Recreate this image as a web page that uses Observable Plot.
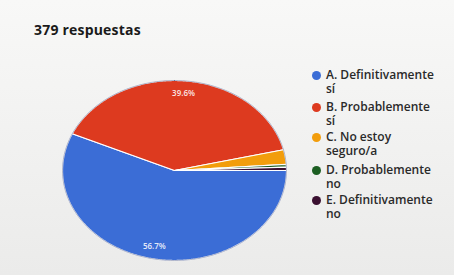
<!DOCTYPE html>
<html><head><meta charset="utf-8">
<script src="https://cdn.jsdelivr.net/npm/d3@7"></script>
<script src="https://cdn.jsdelivr.net/npm/@observablehq/plot@0.6"></script>
<style>
body{margin:0;background:#f1f1f0;font-family:"Open Sans",Roboto,sans-serif;}
#wrap{position:relative;width:454px;height:275px;overflow:hidden;background:linear-gradient(#f8f8f7,#ebebea);}
#title{position:absolute;left:34px;top:20px;font-size:14px;font-weight:700;color:#1a1a1a;letter-spacing:0.2px;}
#plot{position:absolute;left:0;top:0;}
.leg{position:absolute;left:312px;width:140px;display:flex;align-items:flex-start;font-size:12px;font-weight:600;color:#2a2a2a;line-height:14px;}
.leg .sw{width:9px;height:9px;border-radius:50%;flex:none;margin-top:3px;margin-right:5px;}
.leg .tx{width:108px;}
</style></head>
<body><div id="wrap"><div id="title"></div><div id="plot"></div></div>
<script>
const title = "379 respuestas";
const categories = ["A. Definitivamente sí","B. Probablemente sí","C. No estoy seguro/a","D. Probablemente no","E. Definitivamente no"];
const values = [56.7, 39.6, 2.6, 0.5, 0.6];
const colors = ["#3b6dd6","#dd3a1f","#f29d0c","#1c5e22","#3a1030"];
const shownLabels = ["56.7%","39.6%","","",""];

document.getElementById("title").textContent = title;

const arcs = d3.pie().sort(null).value(d => d).startAngle(Math.PI/2).endAngle(Math.PI/2 + 2*Math.PI)(values);
const marks = [];
arcs.forEach((a, i) => {
  const pts = [{x:0,y:0}];
  const n = Math.max(2, Math.ceil((a.endAngle - a.startAngle) / 0.01));
  for (let k = 0; k <= n; k++) {
    const t = a.startAngle + (a.endAngle - a.startAngle) * k / n;
    pts.push({x: Math.sin(t), y: -Math.cos(t)});
  }
  marks.push(Plot.line(pts, {x:"x", y:"y", fill: colors[i], stroke: "#ffffff", strokeWidth: 1.2, curve: "linear-closed"}));
});
const rim = d3.range(0, 361, 2).map(d => ({x: Math.sin(d*Math.PI/180), y: -Math.cos(d*Math.PI/180)}));
marks.push(Plot.line(rim, {x:"x", y:"y", stroke:"#1b2a6a", strokeOpacity:0.35, strokeWidth:1, curve:"linear-closed"}));
const labels = arcs.map((a, i) => {
  const m = (a.startAngle + a.endAngle) / 2;
  return {x: 0.86*Math.sin(m), y: -0.86*Math.cos(m), t: shownLabels[i]};
}).filter(d => d.t);
marks.push(Plot.text(labels, {x:"x", y:"y", text:"t", fill:"#ffffff", fillOpacity:0.85, fontSize: 8, fontWeight: 600}));

const chart = Plot.plot({
  width: 454, height: 275,
  x: {domain: [-1, 1], range: [62, 286], axis: null},
  y: {domain: [-1, 1], range: [80, 260], axis: null},
  style: {background: "transparent"},
  marks
});
document.getElementById("plot").appendChild(chart);

const tops = [68, 100, 130, 163, 193];
categories.forEach((c, i) => {
  const d = document.createElement("div");
  d.className = "leg";
  d.style.top = tops[i] + "px";
  d.innerHTML = `<div class="sw" style="background:${colors[i]}"></div><div class="tx"></div>`;
  d.querySelector(".tx").textContent = c;
  document.getElementById("wrap").appendChild(d);
});
</script></body></html>
